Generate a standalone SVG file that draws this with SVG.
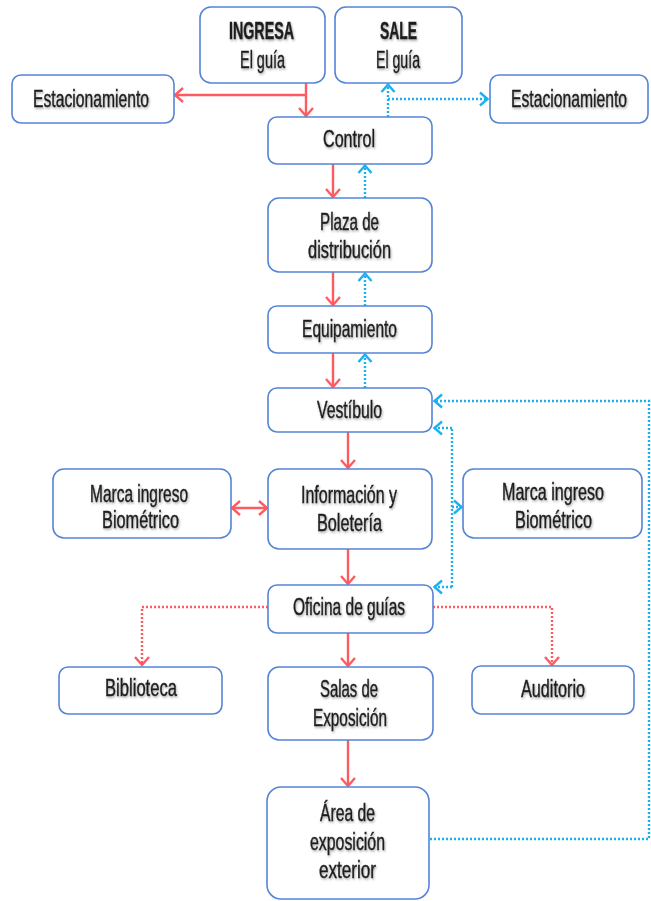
<svg xmlns="http://www.w3.org/2000/svg" width="651" height="901" viewBox="0 0 651 901">
<style>
.box{fill:#fff;stroke:#5584D6;stroke-width:1.6}
.t{font-family:"Liberation Sans","DejaVu Sans",sans-serif;font-size:24px;fill:#1e1e1e;stroke:#1e1e1e;stroke-width:0.4;text-anchor:middle;filter:url(#sh)}
.b{font-weight:bold}
.red{fill:none;stroke:#FF5A5F;stroke-width:2.4}
.redd{fill:none;stroke:#FF5A5F;stroke-width:2.4;stroke-dasharray:2 2}
.blu{fill:none;stroke:#1CB0F0;stroke-width:2.4;stroke-dasharray:2 2}
</style>
<defs>
<filter id="sh" filterUnits="userSpaceOnUse" x="-1000" y="0" width="3000" height="901">
<feDropShadow dx="1.2" dy="1.5" stdDeviation="1.2" flood-color="#000" flood-opacity="0.35"/>
</filter>
<marker id="ar" markerUnits="userSpaceOnUse" markerWidth="14" markerHeight="18" refX="9" refY="8" orient="auto">
<path d="M1,1 L9,8 L1,15" fill="none" stroke="#FF5A5F" stroke-width="2.4"/>
</marker>
<marker id="ab" markerUnits="userSpaceOnUse" markerWidth="14" markerHeight="18" refX="9" refY="8" orient="auto">
<path d="M1,1.5 L8.5,8 L1,14.5" fill="none" stroke="#1CB0F0" stroke-width="2.4"/>
</marker>
<marker id="ars" markerUnits="userSpaceOnUse" markerWidth="14" markerHeight="18" refX="9" refY="8" orient="auto-start-reverse">
<path d="M1,1 L9,8 L1,15" fill="none" stroke="#FF5A5F" stroke-width="2.4"/>
</marker>
</defs>

<g id="connectors">
<path class="red" d="M306,83 V116" marker-end="url(#ar)"/>
<path class="red" d="M306,95 H175" marker-end="url(#ar)"/>
<path class="red" d="M333,164 V197" marker-end="url(#ar)"/>
<path class="red" d="M333,272 V305" marker-end="url(#ar)"/>
<path class="red" d="M333,353 V387" marker-end="url(#ar)"/>
<path class="red" d="M348,432 V468" marker-end="url(#ar)"/>
<path class="red" d="M348,549 V584" marker-end="url(#ar)"/>
<path class="red" d="M348,633 V666" marker-end="url(#ar)"/>
<path class="red" d="M348,740 V786" marker-end="url(#ar)"/>
<path class="red" d="M232,508 H267" marker-start="url(#ars)" marker-end="url(#ars)"/>
<path class="redd" d="M268,607 H142 V665" marker-end="url(#ar)"/>
<path class="redd" d="M433,607 H552 V665" marker-end="url(#ar)"/>
<path class="blu" d="M388,117 V84" marker-end="url(#ab)"/>
<path class="blu" d="M388,99 H488" marker-end="url(#ab)"/>
<path class="blu" d="M365,198 V165" marker-end="url(#ab)"/>
<path class="blu" d="M365,306 V273" marker-end="url(#ab)"/>
<path class="blu" d="M365,388 V354" marker-end="url(#ab)"/>
<path class="blu" d="M430,839 H649 V401 H434" marker-end="url(#ab)"/>
<path class="blu" d="M452,587 V428"/>
<path class="blu" d="M452,428 H434" marker-end="url(#ab)"/>
<path class="blu" d="M452,587 H434" marker-end="url(#ab)"/>
<path class="blu" d="M452,507 H462" marker-end="url(#ab)"/>
</g>

<g id="ingresa"><rect class="box" x="200" y="7" width="125" height="76" rx="11"/>
<text class="t b" transform="matrix(0.72 0 0 1 261.5 0)" x="0" y="39" textLength="90.3" lengthAdjust="spacingAndGlyphs">INGRESA</text>
<text class="t" transform="matrix(0.72 0 0 1 262.5 0)" x="0" y="68" textLength="62.5" lengthAdjust="spacingAndGlyphs">El guía</text></g>
<g id="sale"><rect class="box" x="335" y="7" width="127" height="76" rx="11"/>
<text class="t b" transform="matrix(0.72 0 0 1 398.5 0)" x="0" y="39" textLength="51.4" lengthAdjust="spacingAndGlyphs">SALE</text>
<text class="t" transform="matrix(0.72 0 0 1 398 0)" x="0" y="68" textLength="61.1" lengthAdjust="spacingAndGlyphs">El guía</text></g>
<g id="estac-izq"><rect class="box" x="12" y="75" width="162" height="48" rx="9"/>
<text class="t" transform="matrix(0.72 0 0 1 91 0)" x="0" y="107" textLength="161.1" lengthAdjust="spacingAndGlyphs">Estacionamiento</text></g>
<g id="estac-der"><rect class="box" x="490" y="75" width="158" height="48" rx="9"/>
<text class="t" transform="matrix(0.72 0 0 1 569 0)" x="0" y="107" textLength="161.1" lengthAdjust="spacingAndGlyphs">Estacionamiento</text></g>
<g id="control"><rect class="box" x="268" y="117" width="164" height="47" rx="9"/>
<text class="t" transform="matrix(0.72 0 0 1 349 0)" x="0" y="147" textLength="72.2" lengthAdjust="spacingAndGlyphs">Control</text></g>
<g id="plaza"><rect class="box" x="268" y="198" width="164" height="74" rx="11"/>
<text class="t" transform="matrix(0.72 0 0 1 349.5 0)" x="0" y="230" textLength="81.9" lengthAdjust="spacingAndGlyphs">Plaza de</text>
<text class="t" transform="matrix(0.72 0 0 1 349.5 0)" x="0" y="258" textLength="115.3" lengthAdjust="spacingAndGlyphs">distribución</text></g>
<g id="equipamiento"><rect class="box" x="268" y="306" width="164" height="47" rx="9"/>
<text class="t" transform="matrix(0.72 0 0 1 349.5 0)" x="0" y="337" textLength="131.9" lengthAdjust="spacingAndGlyphs">Equipamiento</text></g>
<g id="vestibulo"><rect class="box" x="268" y="388" width="164" height="44" rx="9"/>
<text class="t" transform="matrix(0.72 0 0 1 349.5 0)" x="0" y="418" textLength="90.3" lengthAdjust="spacingAndGlyphs">Vestíbulo</text></g>
<g id="informacion"><rect class="box" x="268" y="469" width="164" height="80" rx="11"/>
<text class="t" transform="matrix(0.72 0 0 1 349 0)" x="0" y="503" textLength="133.3" lengthAdjust="spacingAndGlyphs">Información y</text>
<text class="t" transform="matrix(0.72 0 0 1 349.5 0)" x="0" y="531" textLength="90.3" lengthAdjust="spacingAndGlyphs">Boletería</text></g>
<g id="marca-izq"><rect class="box" x="53" y="469" width="178" height="69" rx="11"/>
<text class="t" transform="matrix(0.72 0 0 1 139 0)" x="0" y="502" textLength="136.1" lengthAdjust="spacingAndGlyphs">Marca ingreso</text>
<text class="t" transform="matrix(0.72 0 0 1 140.5 0)" x="0" y="528" textLength="106.9" lengthAdjust="spacingAndGlyphs">Biométrico</text></g>
<g id="marca-der"><rect class="box" x="463" y="469" width="179" height="69" rx="11"/>
<text class="t" transform="matrix(0.72 0 0 1 553 0)" x="0" y="500" textLength="141.7" lengthAdjust="spacingAndGlyphs">Marca ingreso</text>
<text class="t" transform="matrix(0.72 0 0 1 553.5 0)" x="0" y="528" textLength="106.9" lengthAdjust="spacingAndGlyphs">Biométrico</text></g>
<g id="oficina"><rect class="box" x="268" y="585" width="165" height="48" rx="9"/>
<text class="t" transform="matrix(0.72 0 0 1 349 0)" x="0" y="615" textLength="155.6" lengthAdjust="spacingAndGlyphs">Oficina de guías</text></g>
<g id="biblioteca"><rect class="box" x="59" y="667" width="163" height="47" rx="9"/>
<text class="t" transform="matrix(0.72 0 0 1 141 0)" x="0" y="696" textLength="100" lengthAdjust="spacingAndGlyphs">Biblioteca</text></g>
<g id="salas"><rect class="box" x="268" y="667" width="165" height="73" rx="11"/>
<text class="t" transform="matrix(0.72 0 0 1 349 0)" x="0" y="697" textLength="80.6" lengthAdjust="spacingAndGlyphs">Salas de</text>
<text class="t" transform="matrix(0.72 0 0 1 350 0)" x="0" y="726" textLength="102.8" lengthAdjust="spacingAndGlyphs">Exposición</text></g>
<g id="auditorio"><rect class="box" x="472" y="666" width="162" height="48" rx="9"/>
<text class="t" transform="matrix(0.72 0 0 1 553 0)" x="0" y="697" textLength="88.9" lengthAdjust="spacingAndGlyphs">Auditorio</text></g>
<g id="area-exterior"><rect class="box" x="267" y="787" width="162" height="112" rx="14"/>
<text class="t" transform="matrix(0.72 0 0 1 347.5 0)" x="0" y="821" textLength="76.4" lengthAdjust="spacingAndGlyphs">Área de</text>
<text class="t" transform="matrix(0.72 0 0 1 347.5 0)" x="0" y="850" textLength="104.2" lengthAdjust="spacingAndGlyphs">exposición</text>
<text class="t" transform="matrix(0.72 0 0 1 347.5 0)" x="0" y="878" textLength="79.2" lengthAdjust="spacingAndGlyphs">exterior</text></g>
</svg>
